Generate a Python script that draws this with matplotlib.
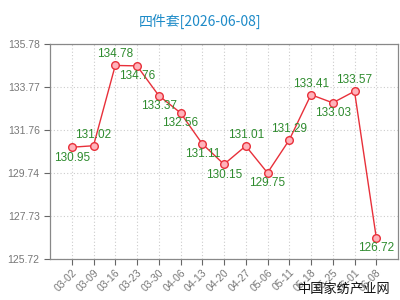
import matplotlib
matplotlib.use("Agg")
import matplotlib.pyplot as plt

dates = ["03-02", "03-09", "03-16", "03-23", "03-30", "04-06", "04-13", "04-20",
         "04-27", "05-06", "05-11", "05-18", "05-25", "06-01", "06-08"]
values = [130.95, 131.02, 134.78, 134.76, 133.37, 132.56, 131.11, 130.15,
          131.01, 129.75, 131.29, 133.41, 133.03, 133.57, 126.72]
label_pos = ["below", "above", "above", "below", "below", "below", "below", "below",
             "above", "below", "above", "above", "below", "above", "below"]
yticks = [125.72, 127.73, 129.74, 131.76, 133.77, 135.78]
title = "四件套[2026-06-08]"
watermark = "中国家纺产业网"

plt.rcParams['font.family'] = ['Liberation Sans', 'Noto Sans CJK SC', 'DejaVu Sans']

fig = plt.figure(figsize=(4, 3), dpi=100)
ax = fig.add_axes([0.125, 0.137, 0.87, 0.716])

x = list(range(len(values)))
ax.plot(x, values, color="#e8303a", lw=1.0, marker="o", ms=5.5,
        markerfacecolor="#ffb3bb", markeredgecolor="#e8303a", markeredgewidth=1.0, zorder=3)

for xi, v, p in zip(x, values, label_pos):
    off = 8 if p == "above" else -7.5
    ax.annotate(f"{v:.2f}", (xi, v), xytext=(0, off), textcoords="offset points",
                ha="center", va="center",
                fontsize=8.5, color="#2e8b2e")

ax.set_xlim(-1, len(values))
ax.set_ylim(yticks[0], yticks[-1])
ax.set_yticks(yticks)
ax.set_yticklabels([f"{t:.2f}" for t in yticks])
ax.set_xticks(x)
ax.set_xticklabels(dates, rotation=45, ha="right", rotation_mode="anchor")

ax.grid(True, color="#cccccc", linestyle=(0, (1, 2)), lw=0.8)
for s in ax.spines.values():
    s.set_color("#888888")
    s.set_linewidth(0.9)
ax.tick_params(axis="both", colors="#666666", labelsize=7.5, length=4, width=0.8,
               direction="out", labelcolor="#777777")
ax.tick_params(axis="x", pad=2)

fig.text(0.5, 0.93, title, ha="center", va="center", fontsize=10, color="#1e8bc8",
         family=['Noto Sans CJK SC', 'DejaVu Sans'])
fig.text(0.975, 0.035, watermark, ha="right", va="center", fontsize=9.5, color="#111111",
         family=['Noto Sans CJK SC', 'DejaVu Sans'])

fig.savefig("out.png", dpi=100)
